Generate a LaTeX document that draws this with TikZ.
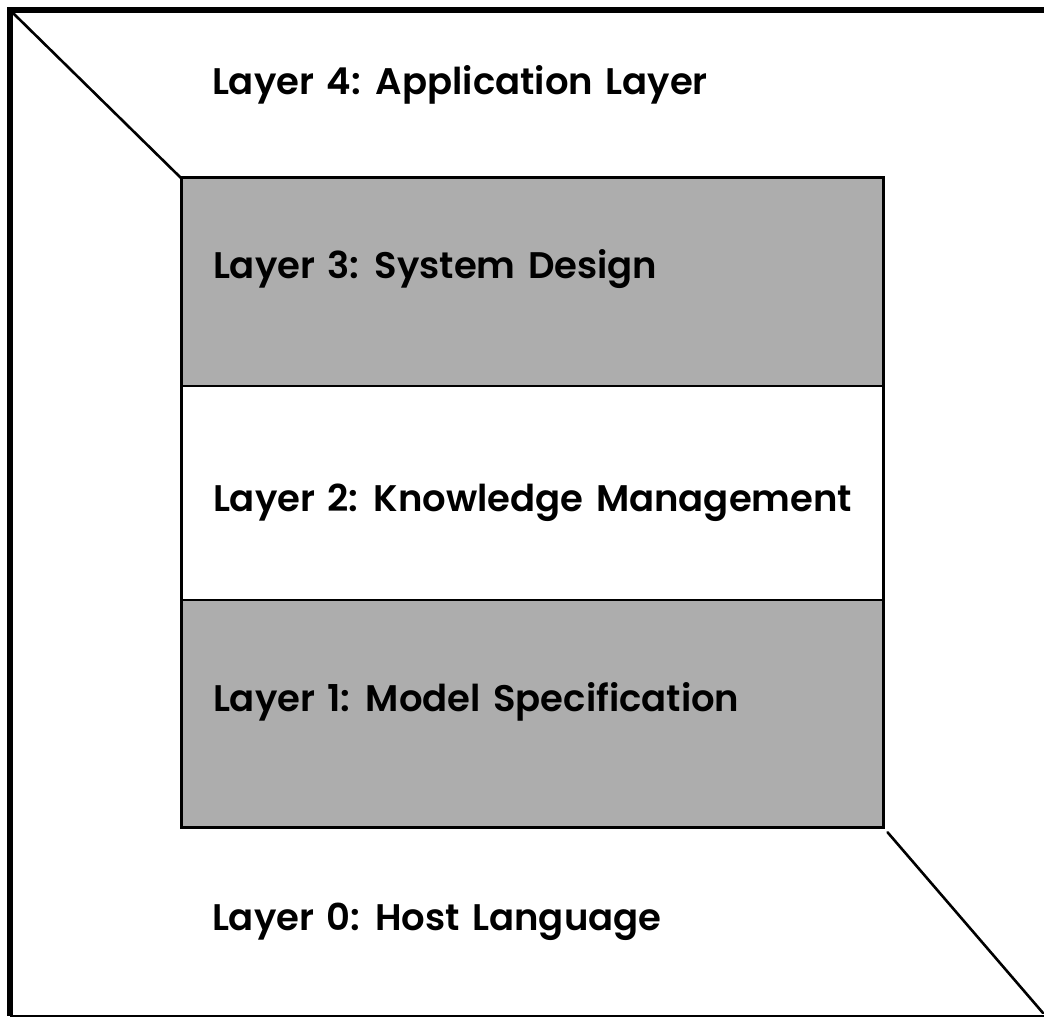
\documentclass[tikz,border=0pt]{standalone}
\usepackage{fontspec}
\setmainfont{Poppins}[BoldFont={* SemiBold}, WordSpace=1.4]
\definecolor{halftone}{gray}{0.68}
\tikzset{
  band/.style={draw=black, line width=2pt, minimum width=702pt,
    inner sep=0pt, outer sep=0pt, anchor=north west},
  shadedband/.style={band, fill=halftone},
  plainband/.style={band, fill=white},
  layertext/.style={anchor=base west, inner sep=0pt, outer sep=0pt,
    font=\fontsize{37}{37}\selectfont\bfseries},
  rule/.style={line width=2.6pt, line cap=round}
}
\begin{document}
\begin{tikzpicture}[x=1pt,y=-1pt]
\useasboundingbox (0,0) rectangle (1044,1019);

% outer frame: heavy top and left, light bottom
\coordinate (tl) at (10,10);
\coordinate (tr) at (1044,10);
\coordinate (bl) at (10,1016);
\coordinate (br) at (1044,1016);
\draw[line width=2.4pt] (bl) -- (br);
\draw[line width=6pt] (tr) -- (tl) -- (bl);

% the three inner layers
\node[shadedband, minimum height=208pt] (l3) at (181,178) {};
\node[plainband,  minimum height=214pt] (l2) at (181,386) {};
\node[shadedband, minimum height=227pt] (l1) at (181,600) {};
\draw[line width=3pt] (l3.north west) rectangle (l1.south east);

% diagonals joining the frame corners to the inner box
\coordinate (d1) at (14,14);
\coordinate (d2) at (1043,1013);
\draw[rule] (d1) -- (l3.north west);
\draw[rule, shorten <=7pt] (l1.south east) -- (d2);

% layer labels
\node[layertext] (t4) at (212,95)  {Layer 4: Application Layer};
\node[layertext] (t3) at (213,278) {Layer 3: System Design};
\node[layertext] (t2) at (213,511) {Layer 2: Knowledge Management};
\node[layertext] (t1) at (213,711) {Layer 1: Model Specification};
\node[layertext] (t0) at (212,930) {Layer 0: Host Language};
\end{tikzpicture}
\end{document}
